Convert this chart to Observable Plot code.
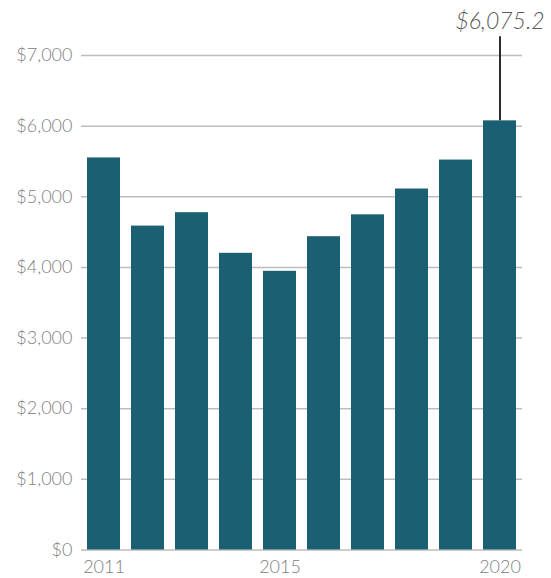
<!DOCTYPE html>
<html>
<head>
<meta charset="utf-8">
<script src="https://cdn.jsdelivr.net/npm/d3@7"></script>
<script src="https://cdn.jsdelivr.net/npm/@observablehq/plot@0.6"></script>
<style>
  html, body { margin: 0; padding: 0; background: #fff; }
  #chart svg { display: block; }
</style>
</head>
<body>
<div id="chart"></div>
<script>
const years = ["2011","2012","2013","2014","2015","2016","2017","2018","2019","2020"];
const values = [5550, 4585, 4775, 4200, 3945, 4435, 4745, 5110, 5520, 6075.2];
const yTicks = [0, 1000, 2000, 3000, 4000, 5000, 6000, 7000];
const xTickLabels = ["2011", "2015", "2020"];
const annotationYear = "2020";
const annotationValue = 6075.2;
const annotationText = "$6,075.2";

const data = years.map((year, i) => ({year, value: values[i]}));
const anno = [{year: annotationYear, value: annotationValue, label: annotationText}];
const fmt = d => "$" + d3.format(",")(d);

const chart = Plot.plot({
  width: 551,
  height: 578,
  marginTop: 55,
  marginBottom: 28.5,
  marginLeft: 81,
  marginRight: 29,
  style: {fontFamily: "Lato, 'Open Sans', sans-serif", fontWeight: 300, background: "#fff"},
  x: {domain: years, paddingInner: 0.24, paddingOuter: 0.13, label: null},
  y: {domain: [0, 7000], label: null},
  marks: [
    Plot.ruleY(yTicks, {stroke: "#bdbdbd", strokeWidth: 1.5}),
    Plot.barY(data, {x: "year", y: "value", fill: "#1b6072"}),
    Plot.ruleX(anno, {x: "year", y1: "value", y2: "value", insetTop: -84, stroke: "#2b2b2b", strokeWidth: 2}),
    Plot.text(anno, {x: "year", y: "value", text: "label", dy: -92, lineAnchor: "bottom", textAnchor: "middle",
      fontSize: 23, fontStyle: "italic", fill: "#5a5a5a"}),
    Plot.axisY(yTicks, {tickSize: 0, tickPadding: 9, tickFormat: fmt, fontSize: 18, fill: "#808080"}),
    Plot.axisX(xTickLabels, {tickSize: 0, tickPadding: 10, fontSize: 18, fill: "#808080"})
  ]
});
document.getElementById("chart").appendChild(chart);
</script>
</body>
</html>
